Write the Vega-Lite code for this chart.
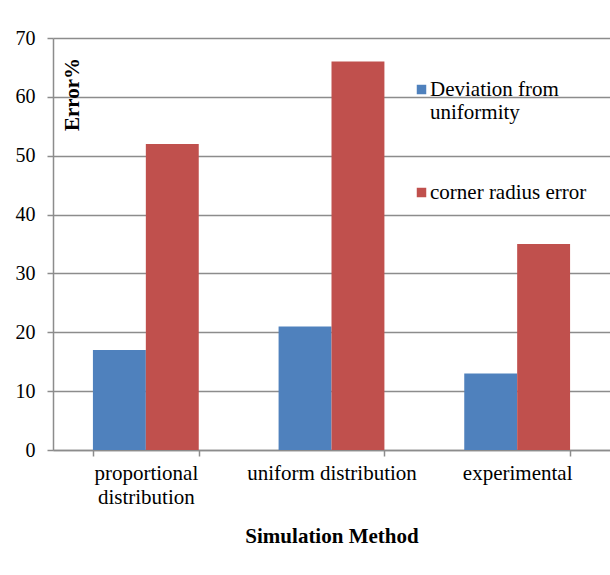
{
  "$schema": "https://vega.github.io/schema/vega-lite/v6.json",
  "autosize": "none",
  "width": 557,
  "height": 412,
  "padding": {"left": 53, "top": 38, "right": 0, "bottom": 125},
  "background": "white",
  "config": {
    "view": {"stroke": null},
    "font": "Liberation Serif"
  },
  "data": {
    "values": [
      {"method": "proportional distribution", "series": "Deviation from uniformity", "value": 17},
      {"method": "proportional distribution", "series": "corner radius error", "value": 52},
      {"method": "uniform distribution", "series": "Deviation from uniformity", "value": 21},
      {"method": "uniform distribution", "series": "corner radius error", "value": 66},
      {"method": "experimental", "series": "Deviation from uniformity", "value": 13},
      {"method": "experimental", "series": "corner radius error", "value": 35}
    ]
  },
  "mark": {"type": "bar"},
  "encoding": {
    "x": {
      "field": "method",
      "type": "nominal",
      "sort": ["proportional distribution", "uniform distribution", "experimental"],
      "scale": {"paddingInner": 0.43, "paddingOuter": 0.215},
      "axis": {
        "title": "Simulation Method",
        "titleFont": "Liberation Serif",
        "titleFontSize": 21,
        "titleFontWeight": "bold",
        "titleColor": "black",
        "titlePadding": 18,
        "labelAngle": 0,
        "labelFont": "Liberation Serif",
        "labelFontSize": 21,
        "labelColor": "black",
        "labelLineHeight": 24,
        "labelPadding": 6,
        "labelExpr": "datum.label == 'proportional distribution' ? ['proportional', 'distribution'] : datum.label",
        "tickBand": "extent",
        "tickSize": 6,
        "tickColor": "#8c8c8c",
        "tickWidth": 1.5,
        "domainColor": "#8c8c8c",
        "domainWidth": 1.5
      }
    },
    "xOffset": {
      "field": "series",
      "type": "nominal",
      "sort": ["Deviation from uniformity", "corner radius error"],
      "scale": {"paddingInner": 0, "paddingOuter": 0}
    },
    "y": {
      "field": "value",
      "type": "quantitative",
      "scale": {"domain": [0, 70], "nice": false},
      "axis": {
        "values": [0, 10, 20, 30, 40, 50, 60, 70],
        "title": "Error%",
        "titleFont": "Liberation Serif",
        "titleFontSize": 21,
        "titleFontWeight": "bold",
        "titleColor": "black",
        "titleAngle": -90,
        "titleX": 19,
        "titleY": 56,
        "titleAlign": "center",
        "titleBaseline": "middle",
        "labelFont": "Liberation Serif",
        "labelFontSize": 20,
        "labelColor": "black",
        "labelPadding": 12,
        "tickSize": 6,
        "tickColor": "#8c8c8c",
        "tickWidth": 1.5,
        "domainColor": "#8c8c8c",
        "domainWidth": 1.5,
        "grid": true,
        "gridColor": "#8c8c8c",
        "gridWidth": 1.5
      }
    },
    "color": {
      "field": "series",
      "type": "nominal",
      "sort": ["Deviation from uniformity", "corner radius error"],
      "scale": {"range": ["#4F81BD", "#C0504D"]},
      "legend": {
        "title": null,
        "orient": "none",
        "legendX": 358,
        "legendY": 41,
        "symbolType": "square",
        "symbolSize": 90,
        "symbolStrokeWidth": 0,
        "symbolOffset": 0,
        "labelFont": "Liberation Serif",
        "labelFontSize": 21,
        "labelColor": "black",
        "labelLineHeight": 27,
        "labelOffset": -2,
        "labelLimit": 300,
        "rowPadding": 58,
        "labelExpr": "datum.label == 'Deviation from uniformity' ? ['Deviation from', 'uniformity'] : datum.label"
      }
    }
  }
}
